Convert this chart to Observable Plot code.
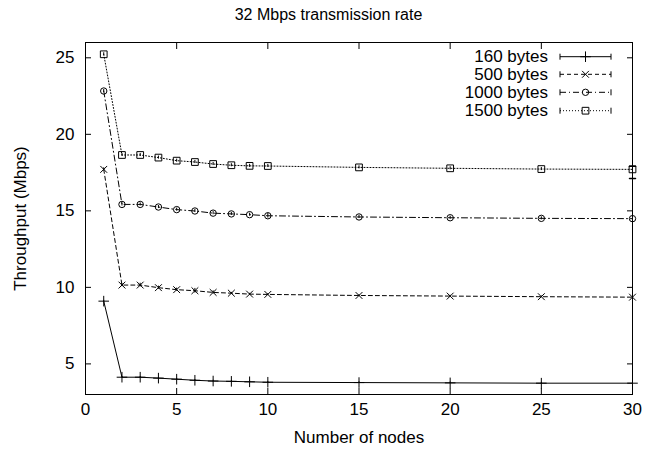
<!DOCTYPE html>
<html><head><meta charset="utf-8">
<script src="https://cdn.jsdelivr.net/npm/d3@7"></script>
<script src="https://cdn.jsdelivr.net/npm/@observablehq/plot@0.6"></script>
<style>
body{margin:0;background:#fff;}
#wrap{position:relative;width:657px;height:450px;font-family:"Liberation Sans",Arial,sans-serif;color:#000;}
#title{position:absolute;left:0;width:657px;top:0;height:30px;text-align:center;font-size:16px;line-height:30px;}
#chart{position:absolute;top:30px;left:0;}
#legend{position:absolute;left:0;top:0;pointer-events:none;}
</style></head><body>
<div id="wrap"><div id="title">32 Mbps transmission rate</div><div id="chart"></div><svg id="legend" width="657" height="450"></svg></div>
<script>
const nodes = [1, 2, 3, 4, 5, 6, 7, 8, 9, 10, 15, 20, 25, 30];
const tp160  = [9.10, 4.13, 4.13, 4.07, 4.00, 3.93, 3.88, 3.86, 3.83, 3.80, 3.78, 3.76, 3.74, 3.74];
const tp500  = [17.71, 10.15, 10.15, 9.98, 9.85, 9.78, 9.67, 9.62, 9.56, 9.54, 9.47, 9.43, 9.39, 9.36];
const tp1000 = [22.83, 15.42, 15.42, 15.25, 15.08, 14.99, 14.85, 14.80, 14.75, 14.68, 14.60, 14.55, 14.51, 14.49];
const tp1500 = [25.23, 18.65, 18.65, 18.48, 18.28, 18.19, 18.06, 17.98, 17.94, 17.93, 17.84, 17.78, 17.73, 17.71];
const err160  = [0.05, 0.05, 0.05, 0.05, 0.05, 0.05, 0.05, 0.05, 0.05, 0.05, 0.05, 0.05, 0.05, 0.05];
const err500  = [0.10, 0.10, 0.12, 0.10, 0.10, 0.15, 0.10, 0.05, 0.05, 0.05, 0.05, 0.05, 0.05, 0.05];
const err1000 = [0.10, 0.10, 0.10, 0.10, 0.10, 0.10, 0.10, 0.10, 0.10, 0.15, 0.10, 0.10, 0.10, 0.10];
const err1500 = [0.10, 0.10, 0.10, 0.10, 0.10, 0.10, 0.10, 0.10, 0.10, 0.10, 0.10, 0.10, 0.10, 0.40];
const seriesNames = ["160 bytes", "500 bytes", "1000 bytes", "1500 bytes"];
const xTicks = [0, 5, 10, 15, 20, 25, 30];
const yTicks = [5, 10, 15, 20, 25];

const dashes = [null, "4,3", "6,3,1,3", "1,2"];
const symbols = ["plus", "times", "circle", "square"];
const d3symbols = [d3.symbolPlus, d3.symbolTimes, d3.symbolCircle, d3.symbolSquare];
const radii = [3.5, 3.2, 3.2, 3.8];

const vals = [tp160, tp500, tp1000, tp1500];
const errs = [err160, err500, err1000, err1500];
const rows = [];
seriesNames.forEach((s, i) => nodes.forEach((n, j) => rows.push({series: s, idx: i, nodes: n, tp: vals[i][j], err: errs[i][j]})));

const capShape = {draw(context, l) { context.moveTo(-l / 2, 0); context.lineTo(l / 2, 0); }};

const marks = [];
seriesNames.forEach((s, i) => {
  const d = rows.filter(r => r.series === s);
  marks.push(Plot.line(d, {x: "nodes", y: "tp", stroke: "black", strokeWidth: 1, strokeDasharray: dashes[i]}));
  marks.push(Plot.ruleX(d, {x: "nodes", y1: r => r.tp - r.err, y2: r => r.tp + r.err, stroke: "black", strokeWidth: 1}));
  marks.push(Plot.dot(d, {x: "nodes", y: "tp", symbol: symbols[i], r: radii[i], stroke: "black", fill: "none", strokeWidth: 1}));
});
const errRows = rows.filter(r => r.err >= 0.3);
marks.push(Plot.vector(errRows, {x: "nodes", y: r => r.tp + r.err, length: 6, anchor: "middle", rotate: 0, shape: capShape, stroke: "black"}));
marks.push(Plot.vector(errRows, {x: "nodes", y: r => r.tp - r.err, length: 6, anchor: "middle", rotate: 0, shape: capShape, stroke: "black"}));

const chart = Plot.plot({
  width: 657,
  height: 420,
  marginTop: 12,
  marginLeft: 85,
  marginRight: 25,
  marginBottom: 56,
  style: {fontSize: "17px", fontFamily: "'Liberation Sans', Arial, sans-serif", color: "black", background: "white"},
  x: {domain: [0, 30]},
  y: {domain: [3, 26]},
  marks: [
    Plot.axisX(xTicks, {anchor: "bottom", tickSize: 0, tickPadding: 8, label: "Number of nodes", labelAnchor: "center", labelArrow: "none", labelOffset: 48}),
    Plot.axisX(xTicks, {anchor: "bottom", tickSize: -6, fill: "none", label: null}),
    Plot.axisX(xTicks, {anchor: "top", tickSize: -6, fill: "none", label: null}),
    Plot.axisY(yTicks, {anchor: "left", tickSize: 0, tickPadding: 11, label: "Throughput (Mbps)", labelAnchor: "center", labelArrow: "none", labelOffset: 72}),
    Plot.axisY(yTicks, {anchor: "left", tickSize: -6, fill: "none", label: null}),
    Plot.axisY(yTicks, {anchor: "right", tickSize: -6, fill: "none", label: null}),
    ...marks,
    Plot.frame({stroke: "black", strokeWidth: 1})
  ]
});
document.getElementById("chart").appendChild(chart);

// legend
const leg = d3.select("#legend");
const legY = [56.7, 74.3, 92.3, 110.7];
seriesNames.forEach((s, i) => {
  const y = legY[i];
  leg.append("text").attr("x", 548).attr("y", y).attr("text-anchor", "end").attr("dominant-baseline", "central")
    .style("font-family", "'Liberation Sans', Arial, sans-serif").style("font-size", "17px").text(s);
  const g = leg.append("g").attr("stroke", "black").attr("fill", "none").attr("stroke-width", 1);
  g.append("line").attr("x1", 560).attr("x2", 611).attr("y1", y).attr("y2", y).attr("stroke-dasharray", dashes[i]);
  g.append("line").attr("x1", 560).attr("x2", 560).attr("y1", y - 3).attr("y2", y + 3);
  g.append("line").attr("x1", 611).attr("x2", 611).attr("y1", y - 3).attr("y2", y + 3);
  g.append("path").attr("transform", `translate(585.5,${y})`).attr("d", d3.symbol(d3symbols[i], radii[i] * radii[i] * Math.PI)());
});
</script>
</body></html>
